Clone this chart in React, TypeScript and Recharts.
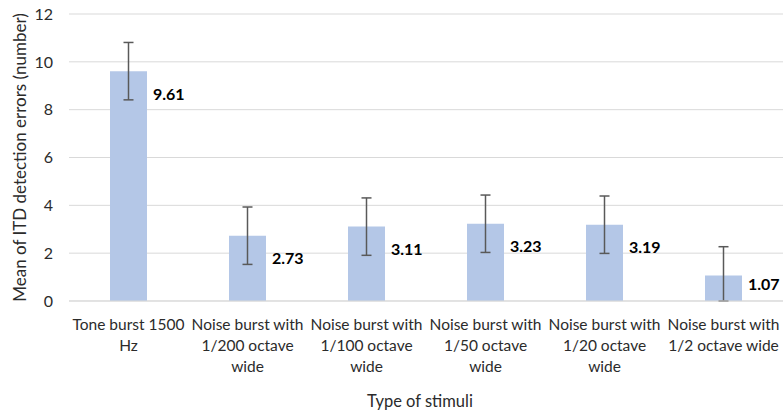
import React from 'react';
import { BarChart, Bar, XAxis, YAxis, CartesianGrid, ErrorBar, LabelList } from 'recharts';

const stimuli = [
  'Tone burst 1500\nHz',
  'Noise burst with\n1/200 octave\nwide',
  'Noise burst with\n1/100 octave\nwide',
  'Noise burst with\n1/50 octave\nwide',
  'Noise burst with\n1/20 octave\nwide',
  'Noise burst with\n1/2 octave wide',
];
const meanErrors = [9.61, 2.73, 3.11, 3.23, 3.19, 1.07];
const errorSpread = [1.2, 1.2, 1.2, 1.2, 1.2, 1.2];
const yTicks = [0, 2, 4, 6, 8, 10, 12];

const FONT = 'Lato, "Open Sans", sans-serif';
const TEXT = '#2b2b2b';

// lower whisker stops at the axis (the original chart cuts it off at 0)
const data = stimuli.map((name, i) => ({
  name,
  mean: meanErrors[i],
  err: [Math.min(errorSpread[i], meanErrors[i]), errorSpread[i]],
}));

const StimulusTick = (props: any) => {
  const { x, y, payload } = props;
  const lines = String(payload.value).split('\n');
  return (
    <g transform={`translate(${x},${y})`}>
      <text textAnchor="middle" fontSize={15.5} fill={TEXT} fontFamily={FONT}>
        {lines.map((line, i) => (
          <tspan key={i} x={0} dy={i === 0 ? 27 : 21}>
            {line}
          </tspan>
        ))}
      </text>
    </g>
  );
};

const ValueLabel = (props: any) => {
  const { x, y, width, height, value } = props;
  const cy = Math.min(y + 22, y + height - 18);
  return (
    <text
      x={x + width + 6}
      y={cy}
      dominantBaseline="central"
      fontSize={16}
      fontWeight="bold"
      fill="#000"
      fontFamily={FONT}
    >
      {value.toFixed(2)}
    </text>
  );
};

export default function App() {
  return (
    <div style={{ position: 'absolute', left: 0, top: 0, background: '#fff' }}>
      <BarChart width={783} height={412} data={data} margin={{ top: 14, right: 0, bottom: 0, left: 0 }}>
        <CartesianGrid vertical={false} stroke="#d9d9d9" />
        <XAxis
          dataKey="name"
          interval={0}
          height={111}
          tickLine={false}
          tickSize={0}
          stroke="#d9d9d9"
          tick={<StimulusTick />}
          label={{
            value: 'Type of stimuli',
            position: 'insideBottom',
            offset: 5,
            dx: -6,
            fontSize: 16.5,
            fill: TEXT,
            fontFamily: FONT,
          }}
        />
        <YAxis
          width={69}
          domain={[0, 12]}
          ticks={yTicks}
          axisLine={false}
          tickLine={false}
          tickSize={0}
          tickMargin={16}
          tick={{ fontSize: 16, fill: TEXT, fontFamily: FONT }}
          label={{
            value: 'Mean of ITD detection errors (number)',
            angle: -90,
            position: 'center',
            dx: -15,
            fontSize: 17,
            fill: TEXT,
            fontFamily: FONT,
          }}
        />
        <Bar dataKey="mean" fill="#b4c7e7" barSize={37} isAnimationActive={false}>
          <ErrorBar dataKey="err" width={5} stroke="#595959" strokeWidth={1.5} isAnimationActive={false} />
          <LabelList dataKey="mean" content={<ValueLabel />} />
        </Bar>
      </BarChart>
    </div>
  );
}
